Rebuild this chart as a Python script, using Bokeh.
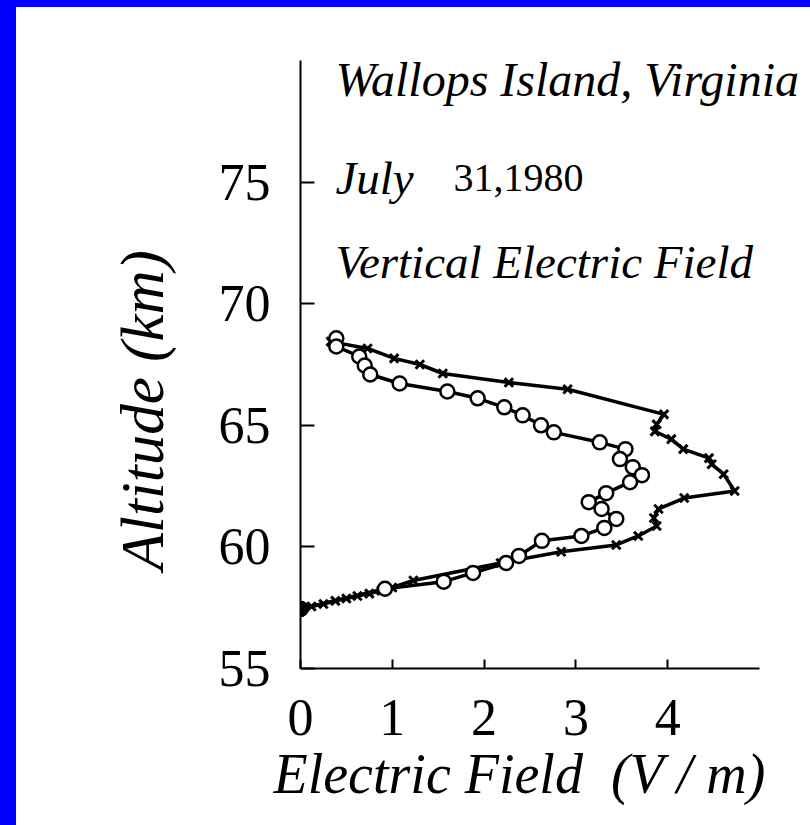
from bokeh.plotting import figure
from bokeh.models import FixedTicker, Label, Spacer, Title
from bokeh.layouts import column, row
from bokeh.embed import file_html
from bokeh.resources import INLINE

# Vertical electric field profile, Wallops Island, Virginia, July 31 1980
# series with cross markers (outer profile)
cross_field = [0.33, 0.73, 1.02, 1.30, 1.55, 2.27, 2.91, 3.96, 3.88, 3.86, 4.04, 4.17,
               4.45, 4.48, 4.61, 4.73, 4.18, 3.90, 3.85, 3.88, 3.68, 3.44, 2.84, 2.18,
               1.23, 1.00, 0.88, 0.75, 0.62, 0.50, 0.38, 0.25, 0.12, 0.0]
cross_alt = [68.44, 68.16, 67.75, 67.50, 67.13, 66.76, 66.48, 65.45, 65.04, 64.75, 64.43, 64.02,
             63.65, 63.40, 62.99, 62.30, 62.01, 61.56, 61.19, 60.86, 60.45, 60.08, 59.80, 59.34,
             58.62, 58.33, 58.20, 58.08, 57.98, 57.88, 57.78, 57.65, 57.55, 57.45]

# series with open circle markers (inner profile)
circ_field = [0.39, 0.39, 0.64, 0.70, 0.76, 1.08, 1.60, 1.93, 2.22, 2.42, 2.62, 2.76,
              3.26, 3.54, 3.48, 3.62, 3.72, 3.59, 3.33, 3.14, 3.28, 3.44, 3.31, 3.06,
              2.63, 2.38, 2.24, 1.88, 1.56, 0.92, 0.0]
circ_alt = [68.58, 68.24, 67.83, 67.46, 67.09, 66.72, 66.39, 66.11, 65.74, 65.41, 65.00, 64.71,
            64.30, 64.02, 63.61, 63.28, 62.95, 62.66, 62.21, 61.84, 61.56, 61.15, 60.78, 60.45,
            60.25, 59.63, 59.34, 58.93, 58.57, 58.28, 57.45]

x_ticks = [0, 1, 2, 3, 4]
y_ticks = [55, 60, 65, 70, 75]

FONT = "Liberation Serif"

p = figure(width=794, height=818, x_range=(0, 5.556), y_range=(55, 80),
           output_backend="svg", toolbar_location=None,
           min_border_left=284, min_border_right=0, min_border_top=53, min_border_bottom=157)
p.outline_line_color = None
p.grid.visible = False
p.background_fill_color = "white"
p.border_fill_color = "white"

for ax in (p.xaxis[0], p.yaxis[0]):
    ax.axis_line_width = 2
    ax.axis_line_color = "black"
    ax.major_tick_line_width = 2
    ax.minor_tick_in = 0
    ax.minor_tick_out = 0
    ax.major_label_text_font = FONT
    ax.major_label_text_font_size = "52px"
    ax.major_label_text_color = "black"
    ax.axis_label_text_font = FONT
    ax.axis_label_text_font_style = "italic"
    ax.axis_label_text_color = "black"

p.xaxis.bounds = (0, 5)
p.xaxis.ticker = FixedTicker(ticks=x_ticks)
p.yaxis.ticker = FixedTicker(ticks=y_ticks)
p.xaxis.major_tick_out = 0
p.xaxis.major_tick_in = 9
p.yaxis.major_tick_out = 0
p.yaxis.major_tick_in = 14
p.yaxis.major_label_standoff = 30
p.xaxis.major_label_standoff = 31
p.yaxis.axis_label = "Altitude (km)" + "\u00a0" * 6
p.yaxis.axis_label_text_font_size = "61px"
p.yaxis.axis_label_standoff = 40

# x-axis title, left-aligned under the axis
p.add_layout(Title(text="Electric Field\u00a0\u00a0(V / m)", align="left", offset=-27,
                   text_font=FONT, text_font_size="56px", text_font_style="italic",
                   text_color="black", standoff=6), "below")

# profiles
p.line(cross_field, cross_alt, line_color="black", line_width=3.5)
p.scatter(cross_field, cross_alt, marker="x", size=12, line_color="black", line_width=3)
p.line(circ_field, circ_alt, line_color="black", line_width=3.5)
p.scatter(circ_field, circ_alt, marker="circle", size=14, fill_color="white",
          line_color="black", line_width=2.5)
p.scatter(circ_field[-1:], circ_alt[-1:], marker="circle", size=14, fill_color="black",
          line_color="black", line_width=2.5)

# annotations
ann = dict(text_font=FONT, text_color="black", text_baseline="alphabetic")
p.add_layout(Label(x=0.38, y=79.22, text="Wallops Island, Virginia", text_font_style="italic",
                   text_font_size="48px", **ann))
p.add_layout(Label(x=0.38, y=75.15, text="July", text_font_style="italic",
                   text_font_size="47px", **ann))
p.add_layout(Label(x=1.667, y=75.15, text="31,1980", text_font_style="normal",
                   text_font_size="40px", **ann))
p.add_layout(Label(x=0.38, y=71.70, text="Vertical Electric Field", text_font_style="italic",
                   text_font_size="47px", **ann))

top_bar = Spacer(width=810, height=7, styles={"background-color": "#0000ff"})
left_bar = Spacer(width=16, height=818, styles={"background-color": "#0000ff"})
layout = column(top_bar, row(left_bar, p, spacing=0), spacing=0,
                styles={"position": "absolute", "left": "0px", "top": "0px"})

open("out.html", "w").write(file_html(layout, INLINE))
